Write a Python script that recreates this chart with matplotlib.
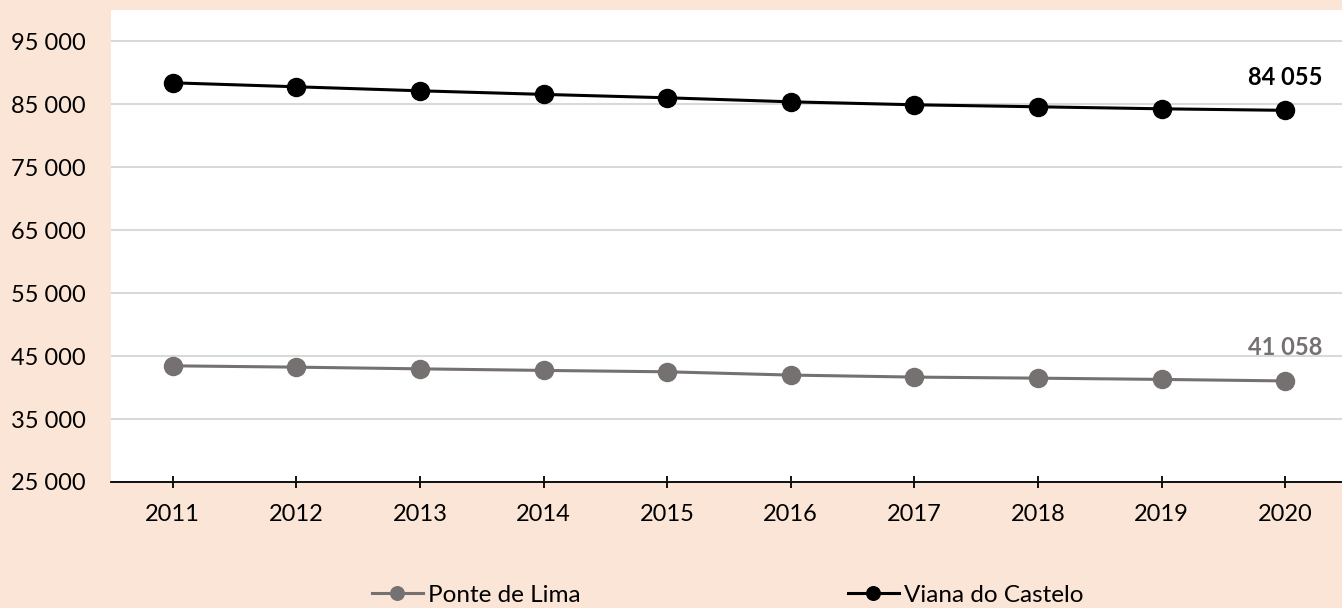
"""Population, Ponte de Lima vs Viana do Castelo, 2011-2020."""

import matplotlib
matplotlib.use("Agg")
import matplotlib.pyplot as plt
from matplotlib.ticker import FuncFormatter

years = ["2011", "2012", "2013", "2014", "2015", "2016", "2017", "2018", "2019", "2020"]
ponte_de_lima = [43460, 43250, 42980, 42730, 42510, 41990, 41670, 41500, 41300, 41058]
viana_do_castelo = [88430, 87800, 87160, 86590, 86050, 85410, 84940, 84620, 84300, 84055]

PEACH = "#FBE5D6"
GREY = "#767171"

plt.rcParams["font.family"] = ["Lato", "DejaVu Sans"]

W, H = 1342, 608
fig = plt.figure(figsize=(W / 100, H / 100), dpi=100, facecolor=PEACH)
ax = fig.add_axes([111 / W, (H - 482) / H, 1 - 111 / W, (482 - 10) / H])
ax.set_facecolor("white")

x = list(range(len(years)))
ax.plot(x, ponte_de_lima, color=GREY, lw=2.2, marker="o", ms=13, label="Ponte de Lima", zorder=3)
ax.plot(x, viana_do_castelo, color="black", lw=2.2, marker="o", ms=13, label="Viana do Castelo", zorder=3)

# end-of-series labels
ax.annotate(f"{viana_do_castelo[-1]:,}".replace(",", " "), (x[-1], viana_do_castelo[-1]),
            xytext=(0, 24), textcoords="offset points", ha="center", va="center",
            fontsize=17, fontweight="bold", color="black")
ax.annotate(f"{ponte_de_lima[-1]:,}".replace(",", " "), (x[-1], ponte_de_lima[-1]),
            xytext=(0, 24), textcoords="offset points", ha="center", va="center",
            fontsize=17, fontweight="bold", color=GREY)

ax.set_xlim(-0.5, 9.46)
ax.set_ylim(25000, 100000)
ax.set_yticks(range(25000, 100000, 10000))
ax.yaxis.set_major_formatter(FuncFormatter(lambda v, _: f"{int(v):,}".replace(",", " ")))
ax.set_xticks(x)
ax.set_xticklabels(years)

ax.grid(axis="y", color="#D9D9D9", lw=1.5)
ax.set_axisbelow(True)
for side in ("top", "right", "left"):
    ax.spines[side].set_visible(False)
ax.spines["bottom"].set_color("black")
ax.spines["bottom"].set_linewidth(1.3)

ax.tick_params(axis="y", length=0, pad=18, labelsize=17)
ax.tick_params(axis="x", direction="inout", length=9, width=1.3, pad=11, labelsize=17)

leg = fig.legend(loc="center", bbox_to_anchor=(0.542, (H - 595) / H), ncol=2, frameon=False,
                 fontsize=17.5, markerscale=0.75, handlelength=2.1, handletextpad=0.2,
                 columnspacing=11)

fig.savefig("out.png", dpi=100, facecolor=PEACH)
